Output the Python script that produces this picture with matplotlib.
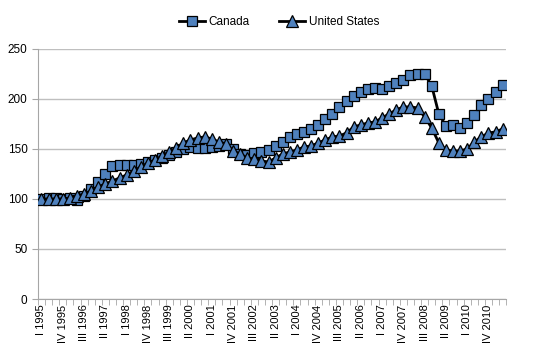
import numpy as np
import matplotlib
matplotlib.use("Agg")
import matplotlib.pyplot as plt

plt.rcParams['font.family'] = ['Liberation Sans', 'DejaVu Sans']

# quarterly index, I 1995 .. II 2011 (1995 = 100)
years = list(range(1995, 2012))
roman = ["I", "II", "III", "IV"]
quarters = [f"{r} {y}" for y in years for r in roman][:66]

canada = [100, 101, 101, 100, 101, 99, 103, 110, 117, 125, 133, 134,
          134, 134, 135, 137, 139, 141, 144, 147, 150, 152, 151, 151,
          152, 153, 155, 150, 145, 144, 146, 147, 149, 153, 157, 162,
          165, 167, 170, 174, 180, 185, 192, 198, 203, 207, 210, 211,
          210, 213, 216, 219, 224, 225, 225, 213, 185, 173, 174, 171,
          176, 184, 194, 200, 207, 214]
united_states = [100, 100, 100, 100, 101, 103, 105, 108, 112, 115, 118, 121,
                 124, 128, 132, 136, 139, 143, 147, 151, 156, 159, 161, 162,
                 160, 157, 155, 148, 145, 141, 140, 138, 137, 141, 145, 147,
                 149, 152, 153, 156, 159, 162, 163, 166, 172, 174, 176, 177,
                 181, 185, 189, 192, 192, 191, 182, 171, 156, 149, 148, 148,
                 150, 157, 162, 166, 167, 170]

fill = "#4F81BD"
x = np.arange(len(quarters))

fig = plt.figure(figsize=(5.42, 3.62), dpi=100)
ax = fig.add_axes([0.070, 0.174, 0.864, 0.691])

ax.plot(x, canada, color="black", lw=2, marker="s", ms=7.5,
        mfc=fill, mec="black", mew=0.9, label="Canada", zorder=3)
ax.plot(x, united_states, color="black", lw=2, marker="^", ms=8.5,
        mfc=fill, mec="black", mew=0.9, label="United States", zorder=4)

ax.set_xlim(-0.5, len(quarters) - 0.5)
ax.set_ylim(0, 250)
ax.set_yticks(range(0, 251, 50))
ax.yaxis.grid(True, color="#BFBFBF", lw=1)
ax.set_axisbelow(True)

ax.set_xticks(x[::3])
ax.set_xticklabels(quarters[::3], rotation=90, fontsize=8)
ax.set_xticks(np.arange(-0.5, len(quarters), 1), minor=True)
ax.tick_params(axis="x", which="major", length=0, pad=4)
ax.tick_params(axis="x", which="minor", length=4, color="#A6A6A6")
ax.tick_params(axis="y", length=4, color="#A6A6A6", labelsize=8.5)

for s in ["top", "right"]:
    ax.spines[s].set_visible(False)
for s in ["left", "bottom"]:
    ax.spines[s].set_color("#A6A6A6")

fig.legend(loc="upper center", bbox_to_anchor=(0.515, 0.985), ncol=2,
           frameon=False, fontsize=8.5, handlelength=2.2, columnspacing=2.5,
           handletextpad=0.3)

fig.savefig("out.png", dpi=100)
